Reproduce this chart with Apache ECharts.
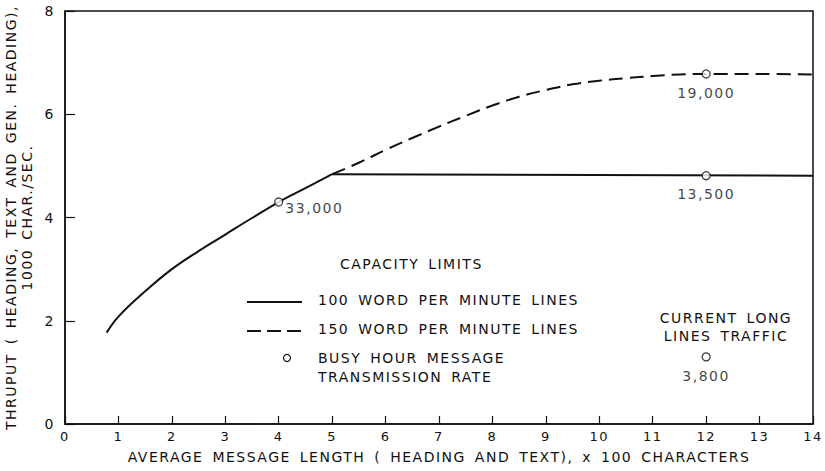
<!DOCTYPE html>
<html>
<head>
<meta charset="utf-8">
<script src="https://cdn.jsdelivr.net/npm/echarts@6/dist/echarts.min.js"></script>
<style>
  html, body { margin: 0; padding: 0; background: #fff; }
  /* wide, hand-lettered look for all chart text */
  #chart { width: 825px; height: 471px; letter-spacing: 1.5px; word-spacing: 3px; }
</style>
</head>
<body>
<div id="chart"></div>
<script>
// Average message length (x 100 characters) vs. throughput (1000 char./sec.)
// 100 wpm lines: rising part, then flat capacity limit
const line100wpmRise = [
  [0.78, 1.77], [1.0, 2.08], [1.5, 2.57], [2.0, 3.0], [2.5, 3.35], [3.0, 3.67],
  [3.5, 3.99], [4.0, 4.30], [4.5, 4.57], [5.0, 4.84]
];
const line100wpmFlat = [[5.0, 4.84], [14.0, 4.81]];
const line150wpm = [
  [5.0, 4.84], [5.5, 5.06], [6.0, 5.31], [6.5, 5.54], [7.0, 5.76], [7.5, 5.97],
  [8.0, 6.17], [8.5, 6.34], [9.0, 6.47], [9.5, 6.58], [10.0, 6.65], [10.5, 6.70],
  [11.0, 6.74], [11.5, 6.77], [12.0, 6.78], [13.0, 6.78], [14.0, 6.77]
];
// Busy hour message transmission rates: [x, y, label, label position]
const busyHourPoints = [
  [4.0, 4.30, '33,000', 'right'],
  [12.0, 6.78, '19,000', 'bottom'],
  [12.0, 4.81, '13,500', 'bottom'],
  [12.0, 1.30, '3,800', 'bottom']
];
const xRange = { min: 0, max: 14, interval: 1 };
const yRange = { min: 0, max: 8, interval: 2 };

const FONT = 'DejaVu Sans';
const INK = '#111';

const chart = echarts.init(document.getElementById('chart'), null, { renderer: 'svg' });

const solidStyle = { color: INK, width: 2 };

chart.setOption({
  backgroundColor: '#fff',
  animation: false,
  textStyle: { fontFamily: FONT, color: INK },
  grid: {
    left: 65, right: 12, top: 11, bottom: 47,
    outerBoundsMode: 'none', containLabel: false,
    show: true, borderColor: INK, borderWidth: 1.5, backgroundColor: 'transparent'
  },
  xAxis: {
    type: 'value', min: xRange.min, max: xRange.max, interval: xRange.interval,
    name: 'AVERAGE MESSAGE LENGTH ( HEADING AND TEXT), x 100 CHARACTERS',
    nameLocation: 'middle', nameGap: 26,
    nameTextStyle: { fontFamily: FONT, fontSize: 14, color: INK },
    axisLine: { show: true, lineStyle: { color: INK, width: 1.5 } },
    axisTick: { show: true, inside: true, length: 8, lineStyle: { color: INK, width: 1.2 } },
    axisLabel: { fontFamily: FONT, fontSize: 13, color: INK, margin: 6 },
    splitLine: { show: false }
  },
  yAxis: {
    type: 'value', min: yRange.min, max: yRange.max, interval: yRange.interval,
    name: 'THRUPUT ( HEADING, TEXT AND GEN. HEADING),\n1000 CHAR./SEC.',
    nameLocation: 'middle', nameRotate: 90, nameGap: 26,
    nameTextStyle: { fontFamily: FONT, fontSize: 14, color: INK, lineHeight: 16 },
    axisLine: { show: true, lineStyle: { color: INK, width: 1.5 } },
    axisTick: { show: true, inside: true, length: 10, lineStyle: { color: INK, width: 1.2 } },
    axisLabel: { fontFamily: FONT, fontSize: 14, color: INK, margin: 10 },
    splitLine: { show: false }
  },
  series: [
    {
      name: '100 WORD PER MINUTE LINES',
      type: 'line', data: line100wpmRise, smooth: 0.4, symbol: 'none',
      lineStyle: solidStyle
    },
    {
      name: '100 WORD PER MINUTE LINES',
      type: 'line', data: line100wpmFlat, symbol: 'none',
      lineStyle: solidStyle
    },
    {
      name: '150 WORD PER MINUTE LINES',
      type: 'line', data: line150wpm, smooth: 0.4, symbol: 'none',
      lineStyle: { color: INK, width: 2, type: [14, 7] }
    },
    {
      name: 'BUSY HOUR MESSAGE TRANSMISSION RATE',
      type: 'scatter', z: 5,
      data: busyHourPoints.map(p => ({
        value: [p[0], p[1]],
        label: {
          show: true, formatter: p[2], position: p[3],
          distance: p[3] === 'right' ? 2 : 7,
          offset: p[3] === 'right' ? [0, 6] : [0, 0]
        }
      })),
      symbol: 'circle', symbolSize: 8,
      itemStyle: { color: '#fff', borderColor: INK, borderWidth: 1.3 },
      label: { fontFamily: FONT, fontSize: 14, color: INK }
    }
  ],
  graphic: [
    { type: 'text', x: 340, y: 257, style: { text: 'CAPACITY LIMITS', font: '14px "DejaVu Sans"', fill: INK, verticalAlign: 'top' } },
    { type: 'line', shape: { x1: 247, y1: 302, x2: 302, y2: 302 }, style: { stroke: INK, lineWidth: 2 } },
    { type: 'text', x: 318, y: 293, style: { text: '100 WORD PER MINUTE LINES', font: '14px "DejaVu Sans"', fill: INK, verticalAlign: 'top' } },
    { type: 'line', shape: { x1: 247, y1: 331, x2: 302, y2: 331 }, style: { stroke: INK, lineWidth: 2, lineDash: [14, 6] } },
    { type: 'text', x: 318, y: 322, style: { text: '150 WORD PER MINUTE LINES', font: '14px "DejaVu Sans"', fill: INK, verticalAlign: 'top' } },
    { type: 'circle', shape: { cx: 287, cy: 358, r: 3.5 }, style: { fill: '#fff', stroke: INK, lineWidth: 1.2 } },
    { type: 'text', x: 318, y: 348, style: { text: 'BUSY HOUR MESSAGE\nTRANSMISSION RATE', font: '14px "DejaVu Sans"', fill: INK, lineHeight: 19, verticalAlign: 'top' } },
    { type: 'text', x: 726, y: 309, style: { text: 'CURRENT LONG\nLINES TRAFFIC', font: '14px "DejaVu Sans"', fill: INK, align: 'center', verticalAlign: 'top', lineHeight: 18 } }
  ]
});
</script>
</body>
</html>
